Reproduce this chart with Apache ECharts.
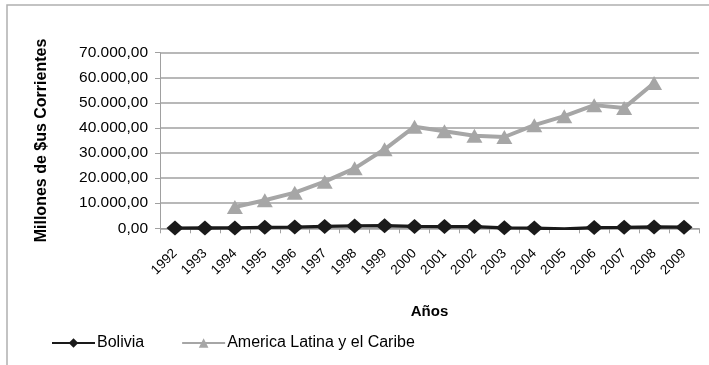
<!DOCTYPE html>
<html><head><meta charset="utf-8">
<script src="https://cdn.jsdelivr.net/npm/echarts@6/dist/echarts.min.js"></script>
<style>html,body{margin:0;padding:0;background:#fff}#c{width:709px;height:365px}</style>
</head><body><div id="c"></div>
<script>
const years = ['1992','1993','1994','1995','1996','1997','1998','1999','2000','2001','2002','2003','2004','2005','2006','2007','2008','2009'];
const bolivia = [90,120,130,390,470,730,950,1010,740,700,680,200,90,-250,280,370,510,430];
const americaLatina = [null,null,8500,11200,14200,18600,23900,31500,40500,38700,36900,36400,41100,44700,49100,48000,57900,null];
const yTicks = [0,10000,20000,30000,40000,50000,60000,70000];

function fmt(v){
  const s = Math.round(v).toString().replace(/\B(?=(\d{3})+(?!\d))/g,'.');
  return s + ',00';
}
const chart = echarts.init(document.getElementById('c'));
chart.setOption({
  animation:false,
  graphic:[{type:'rect',shape:{x:7,y:5,width:720,height:380},style:{fill:'none',stroke:'#b0b0b0',lineWidth:1.5},silent:true}],
  grid:{left:160,right:10,top:52.7,bottom:136.7},
  legend:{
    left:46, top:330, itemGap:37, itemWidth:43, itemHeight:12,
    textStyle:{fontFamily:'Liberation Sans',fontSize:16,color:'#000',padding:[0,0,0,-3]},
    data:[{name:'Bolivia'},{name:'America Latina y el Caribe'}]
  },
  xAxis:{
    type:'category', data:years, boundaryGap:true,
    name:'Años', nameLocation:'middle', nameGap:76,
    nameTextStyle:{fontFamily:'Liberation Sans',fontWeight:'bold',fontSize:15,color:'#000'},
    axisLine:{lineStyle:{color:'#a0a0a0',width:1}},
    axisTick:{show:true,alignWithLabel:false,length:5,lineStyle:{color:'#a0a0a0'}},
    axisLabel:{rotate:45,fontFamily:'Liberation Sans',fontSize:13.5,color:'#000',margin:23}
  },
  yAxis:{
    type:'value', min:0, max:70000, interval:10000,
    name:'Millones de $us Corrientes', nameLocation:'middle', nameGap:110, nameRotate:90,
    nameTextStyle:{fontFamily:'Liberation Sans',fontWeight:'bold',fontSize:16,color:'#000'},
    axisLine:{show:true,lineStyle:{color:'#a0a0a0',width:1}},
    axisTick:{show:true,length:5,lineStyle:{color:'#a0a0a0'}},
    axisLabel:{fontFamily:'Liberation Sans',fontSize:15.5,color:'#000',margin:12,formatter:fmt},
    splitLine:{lineStyle:{color:'#a0a0a0',width:1.5}}
  },
  series:[
    {name:'Bolivia',type:'line',data:bolivia,symbol:'diamond',symbolSize:[17,15],
     lineStyle:{color:'#1a1a1a',width:3.3},itemStyle:{color:'#1a1a1a'},z:3},
    {name:'America Latina y el Caribe',type:'line',data:americaLatina,symbol:'triangle',symbolSize:[16,14],
     connectNulls:false,
     lineStyle:{color:'#a6a6a6',width:4},itemStyle:{color:'#a6a6a6'},z:2}
  ]
});
</script></body></html>
